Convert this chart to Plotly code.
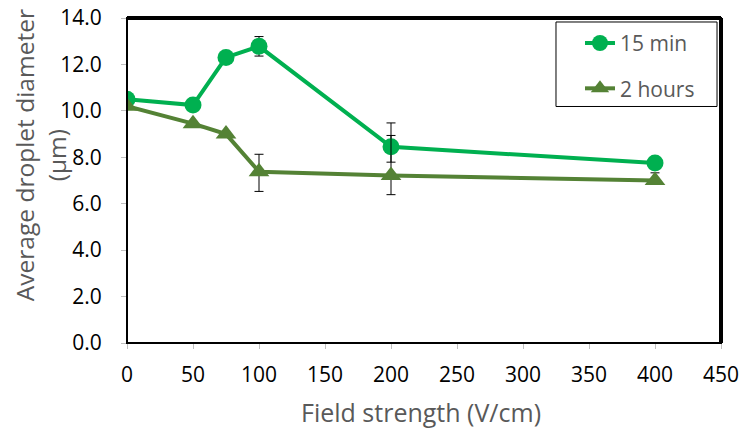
import plotly.graph_objects as go

# Field strength (V/cm)
field = [0, 50, 75, 100, 200, 400]

# Average droplet diameter (µm) after 15 min
d_15min = [10.5, 10.25, 12.3, 12.78, 8.45, 7.75]
err_15min_plus = [0, 0, 0, 0.42, 1.03, 0]
err_15min_minus = [0, 0, 0, 0.42, 0.66, 0]

# Average droplet diameter (µm) after 2 hours
d_2h = [10.2, 9.45, 9.0, 7.38, 7.22, 7.0]
err_2h_plus = [0, 0, 0, 0.75, 1.72, 0.33]
err_2h_minus = [0, 0, 0, 0.85, 0.83, 0.0]

x_ticks = [0, 50, 100, 150, 200, 250, 300, 350, 400, 450]
y_ticks = [0, 2, 4, 6, 8, 10, 12, 14]

GREEN = "#00B050"
OLIVE = "#548235"
GREY_TEXT = "#595959"
FONT = "Open Sans"

fig = go.Figure()

fig.add_trace(go.Scatter(
    x=field, y=d_15min, name="15 min", mode="lines+markers",
    line=dict(color=GREEN, width=4),
    marker=dict(symbol="circle", size=17, color=GREEN),
    error_y=dict(type="data", symmetric=False, array=err_15min_plus,
                 arrayminus=err_15min_minus, color="black", thickness=1, width=4.5),
    legendgroup="a",
))
fig.add_trace(go.Scatter(
    x=field, y=d_2h, name="2 hours", mode="lines+markers",
    line=dict(color=OLIVE, width=4),
    marker=dict(symbol="triangle-up", size=18, color=OLIVE),
    error_y=dict(type="data", symmetric=False, array=err_2h_plus,
                 arrayminus=err_2h_minus, color="black", thickness=1, width=4.5),
    legendgroup="b",
))

# Plot-area frame: thin on left/bottom, heavier on top/right
fig.add_shape(type="rect", xref="x domain", yref="y domain",
              x0=0, x1=1, y0=0, y1=1, line=dict(color="black", width=2), layer="above")
fig.add_shape(type="line", xref="x domain", yref="y domain",
              x0=0, x1=1, y0=1, y1=1, line=dict(color="black", width=4), layer="above")
fig.add_shape(type="line", xref="x domain", yref="y domain",
              x0=1, x1=1, y0=0, y1=1, line=dict(color="black", width=4), layer="above")

# Legend frame
fig.add_shape(type="rect", xref="paper", yref="paper",
              x0=0.7222, x1=0.9933, y0=0.7277, y1=0.9877,
              line=dict(color="black", width=1), fillcolor="white", layer="below")

# Axis titles
fig.add_annotation(text="Average droplet diameter<br>(μm)", xref="paper", yref="paper",
                   x=-0.1465, y=0.578, xanchor="center", yanchor="middle",
                   textangle=-90, showarrow=False,
                   font=dict(family=FONT, size=24.5, color=GREY_TEXT))
fig.add_annotation(text="Field strength (V/cm)", xref="paper", yref="paper",
                   x=0.495, y=-0.2123, xanchor="center", yanchor="middle",
                   showarrow=False,
                   font=dict(family=FONT, size=25, color=GREY_TEXT))

fig.update_layout(
    width=742, height=434,
    margin=dict(l=127, r=21, t=18, b=91),
    paper_bgcolor="white", plot_bgcolor="white",
    font=dict(family=FONT, size=21, color="black"),
    showlegend=True,
    legend=dict(
        x=0.7626, y=0.985, xanchor="left", yanchor="top",
        borderwidth=0, bgcolor="rgba(0,0,0,0)",
        font=dict(family=FONT, size=21, color=GREY_TEXT),
        tracegroupgap=15, traceorder="grouped",
    ),
    xaxis=dict(
        range=[0, 450], tickvals=x_ticks, ticktext=[str(v) for v in x_ticks],
        showline=True, linecolor="#BFBFBF", linewidth=1,
        ticks="outside", tickcolor="#BFBFBF", ticklen=5,
        ticklabelstandoff=8,
        showgrid=False, zeroline=False, automargin=False,
    ),
    yaxis=dict(
        range=[0, 14], tickvals=y_ticks, ticktext=[f"{v:.1f}" for v in y_ticks],
        showline=True, linecolor="#BFBFBF", linewidth=1,
        ticks="outside", tickcolor="#BFBFBF", ticklen=5,
        ticklabelstandoff=15,
        showgrid=False, zeroline=False, automargin=False,
    ),
)

fig.write_html("out.html")
